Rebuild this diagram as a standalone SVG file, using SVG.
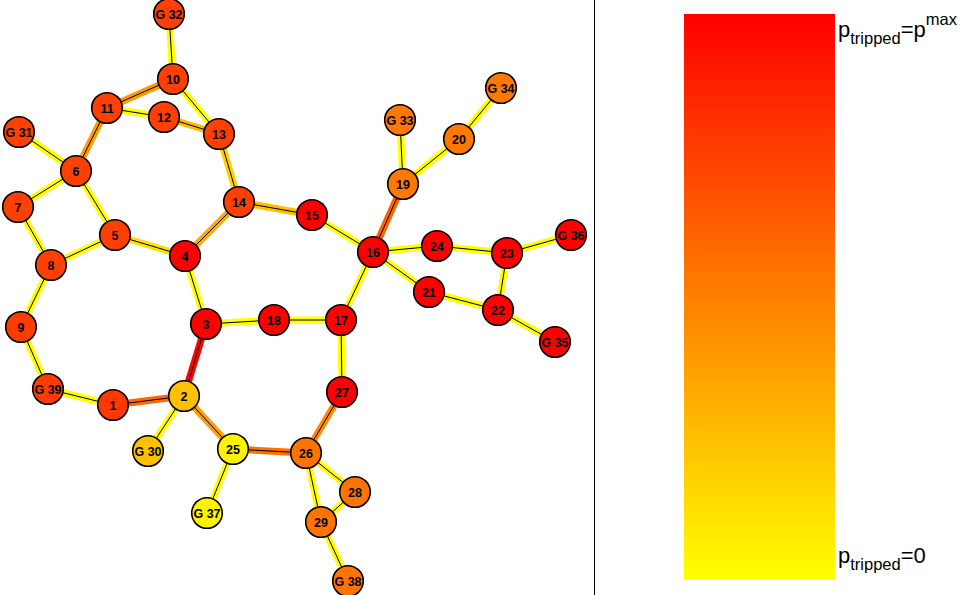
<svg xmlns="http://www.w3.org/2000/svg" width="963" height="595" viewBox="0 0 963 595">
<style>
.n circle{stroke:#000;stroke-width:1.6}
.n text{font-family:"Liberation Sans",Arial,sans-serif;font-weight:bold;font-size:12.5px;text-anchor:middle;fill:#000}
.e line.c{stroke-width:7;stroke-linecap:butt}
.e line.k{stroke:#000;stroke-width:1}
.lbl{font-family:"Liberation Sans",Arial,sans-serif;fill:#000}
</style>
<defs>
<linearGradient id="cb" x1="0" y1="0" x2="0" y2="1">
<stop offset="0" stop-color="#ff0000"/>
<stop offset="1" stop-color="#ffff00"/>
</linearGradient>
</defs>
<rect width="963" height="595" fill="#fff"/>
<line x1="594.5" y1="0" x2="594.5" y2="595" stroke="#000" stroke-width="1"/>
<rect x="684" y="14" width="151" height="565" fill="url(#cb)"/>
<text class="lbl" x="838" y="37" font-size="22">p<tspan font-size="16.5" dy="7">tripped</tspan><tspan dy="-7">=p</tspan><tspan font-size="16.5" dy="-12">max</tspan></text>
<text class="lbl" x="838" y="563" font-size="22">p<tspan font-size="16.5" dy="7">tripped</tspan><tspan dy="-7">=0</tspan></text>
<g id="connectors" class="e">
<g stroke="#ffff00">
<line class="c" x1="169" y1="14" x2="173" y2="79"/>
<line class="c" x1="107" y1="108" x2="164" y2="117"/>
<line class="c" x1="173" y1="79" x2="219" y2="134"/>
<line class="c" x1="19" y1="132" x2="76" y2="171"/>
<line class="c" x1="76" y1="171" x2="18" y2="207"/>
<line class="c" x1="76" y1="171" x2="115" y2="235"/>
<line class="c" x1="18" y1="207" x2="51" y2="265"/>
<line class="c" x1="51" y1="265" x2="115" y2="235"/>
<line class="c" x1="185" y1="256" x2="206" y2="324"/>
<line class="c" x1="51" y1="265" x2="21" y2="327"/>
<line class="c" x1="21" y1="327" x2="48" y2="389"/>
<line class="c" x1="48" y1="389" x2="113" y2="405"/>
<line class="c" x1="206" y1="324" x2="274" y2="320"/>
<line class="c" x1="274" y1="320" x2="341" y2="320"/>
<line class="c" x1="341" y1="320" x2="373" y2="252"/>
<line class="c" x1="341" y1="320" x2="342" y2="392"/>
<line class="c" x1="312" y1="215" x2="373" y2="252"/>
<line class="c" x1="403" y1="184" x2="400" y2="120"/>
<line class="c" x1="403" y1="184" x2="459" y2="139"/>
<line class="c" x1="459" y1="139" x2="501" y2="88"/>
<line class="c" x1="373" y1="252" x2="437" y2="246"/>
<line class="c" x1="437" y1="246" x2="507" y2="253"/>
<line class="c" x1="507" y1="253" x2="571" y2="235"/>
<line class="c" x1="373" y1="252" x2="429" y2="292"/>
<line class="c" x1="429" y1="292" x2="498" y2="310"/>
<line class="c" x1="507" y1="253" x2="498" y2="310"/>
<line class="c" x1="498" y1="310" x2="555" y2="342"/>
<line class="c" x1="184" y1="396" x2="148" y2="451"/>
<line class="c" x1="233" y1="449" x2="207" y2="513"/>
<line class="c" x1="306" y1="453" x2="355" y2="492"/>
<line class="c" x1="306" y1="453" x2="321" y2="522"/>
<line class="c" x1="355" y1="492" x2="321" y2="522"/>
<line class="c" x1="321" y1="522" x2="348" y2="581"/>
</g>
<line class="c" stroke="#ff9900" x1="173" y1="79" x2="107" y2="108"/>
<line class="c" stroke="#ff9900" x1="107" y1="108" x2="76" y2="171"/>
<line class="c" stroke="#ffbb00" x1="164" y1="117" x2="219" y2="134"/>
<line class="c" stroke="#ffd000" x1="239" y1="202" x2="219" y2="134"/>
<line class="c" stroke="#ffaa00" x1="185" y1="256" x2="239" y2="202"/>
<line class="c" stroke="#ffbf00" x1="239" y1="202" x2="312" y2="215"/>
<line class="c" stroke="#ffe000" x1="115" y1="235" x2="185" y2="256"/>
<line class="c" stroke="#ff6600" x1="113" y1="405" x2="184" y2="396"/>
<line class="c" stroke="#ff0000" x1="184" y1="396" x2="206" y2="324"/>
<line class="c" stroke="#ff6000" x1="373" y1="252" x2="403" y2="184"/>
<line class="c" stroke="#ff9d10" x1="184" y1="396" x2="233" y2="449"/>
<line class="c" stroke="#ff7000" x1="233" y1="449" x2="306" y2="453"/>
<line class="c" stroke="#ff8800" x1="306" y1="453" x2="342" y2="392"/>
<g>
<line class="k" x1="169" y1="14" x2="173" y2="79"/>
<line class="k" x1="107" y1="108" x2="164" y2="117"/>
<line class="k" x1="173" y1="79" x2="219" y2="134"/>
<line class="k" x1="19" y1="132" x2="76" y2="171"/>
<line class="k" x1="76" y1="171" x2="18" y2="207"/>
<line class="k" x1="76" y1="171" x2="115" y2="235"/>
<line class="k" x1="18" y1="207" x2="51" y2="265"/>
<line class="k" x1="51" y1="265" x2="115" y2="235"/>
<line class="k" x1="185" y1="256" x2="206" y2="324"/>
<line class="k" x1="51" y1="265" x2="21" y2="327"/>
<line class="k" x1="21" y1="327" x2="48" y2="389"/>
<line class="k" x1="48" y1="389" x2="113" y2="405"/>
<line class="k" x1="206" y1="324" x2="274" y2="320"/>
<line class="k" x1="274" y1="320" x2="341" y2="320"/>
<line class="k" x1="341" y1="320" x2="373" y2="252"/>
<line class="k" x1="341" y1="320" x2="342" y2="392"/>
<line class="k" x1="312" y1="215" x2="373" y2="252"/>
<line class="k" x1="403" y1="184" x2="400" y2="120"/>
<line class="k" x1="403" y1="184" x2="459" y2="139"/>
<line class="k" x1="459" y1="139" x2="501" y2="88"/>
<line class="k" x1="373" y1="252" x2="437" y2="246"/>
<line class="k" x1="437" y1="246" x2="507" y2="253"/>
<line class="k" x1="507" y1="253" x2="571" y2="235"/>
<line class="k" x1="373" y1="252" x2="429" y2="292"/>
<line class="k" x1="429" y1="292" x2="498" y2="310"/>
<line class="k" x1="507" y1="253" x2="498" y2="310"/>
<line class="k" x1="498" y1="310" x2="555" y2="342"/>
<line class="k" x1="184" y1="396" x2="148" y2="451"/>
<line class="k" x1="233" y1="449" x2="207" y2="513"/>
<line class="k" x1="306" y1="453" x2="355" y2="492"/>
<line class="k" x1="306" y1="453" x2="321" y2="522"/>
<line class="k" x1="355" y1="492" x2="321" y2="522"/>
<line class="k" x1="321" y1="522" x2="348" y2="581"/>
<line class="k" x1="173" y1="79" x2="107" y2="108"/>
<line class="k" x1="107" y1="108" x2="76" y2="171"/>
<line class="k" x1="164" y1="117" x2="219" y2="134"/>
<line class="k" x1="239" y1="202" x2="219" y2="134"/>
<line class="k" x1="185" y1="256" x2="239" y2="202"/>
<line class="k" x1="239" y1="202" x2="312" y2="215"/>
<line class="k" x1="115" y1="235" x2="185" y2="256"/>
<line class="k" x1="113" y1="405" x2="184" y2="396"/>
<line class="k" x1="184" y1="396" x2="206" y2="324"/>
<line class="k" x1="373" y1="252" x2="403" y2="184"/>
<line class="k" x1="184" y1="396" x2="233" y2="449"/>
<line class="k" x1="233" y1="449" x2="306" y2="453"/>
<line class="k" x1="306" y1="453" x2="342" y2="392"/>
</g>
</g>
<g class="n">
<g id="nG32"><circle cx="169" cy="14" r="15.3" fill="#ff4000"/><text x="169" y="18.5">G 32</text></g>
<g id="n10"><circle cx="173" cy="79" r="15.3" fill="#ff4000"/><text x="173" y="83.5">10</text></g>
<g id="n11"><circle cx="107" cy="108" r="15.3" fill="#ff4000"/><text x="107" y="112.5">11</text></g>
<g id="n12"><circle cx="164" cy="117" r="15.3" fill="#ff4000"/><text x="164" y="121.5">12</text></g>
<g id="n13"><circle cx="219" cy="134" r="15.3" fill="#ff4000"/><text x="219" y="138.5">13</text></g>
<g id="nG31"><circle cx="19" cy="132" r="15.3" fill="#ff4000"/><text x="19" y="136.5">G 31</text></g>
<g id="n6"><circle cx="76" cy="171" r="15.3" fill="#ff4000"/><text x="76" y="175.5">6</text></g>
<g id="n7"><circle cx="18" cy="207" r="15.3" fill="#ff4000"/><text x="18" y="211.5">7</text></g>
<g id="n5"><circle cx="115" cy="235" r="15.3" fill="#ff4000"/><text x="115" y="239.5">5</text></g>
<g id="n14"><circle cx="239" cy="202" r="15.3" fill="#ff4000"/><text x="239" y="206.5">14</text></g>
<g id="n8"><circle cx="51" cy="265" r="15.3" fill="#ff4000"/><text x="51" y="269.5">8</text></g>
<g id="n9"><circle cx="21" cy="327" r="15.3" fill="#ff3c00"/><text x="21" y="331.5">9</text></g>
<g id="nG39"><circle cx="48" cy="389" r="15.3" fill="#ff3c00"/><text x="48" y="393.5">G 39</text></g>
<g id="n1"><circle cx="113" cy="405" r="15.3" fill="#ff3800"/><text x="113" y="409.5">1</text></g>
<g id="n4"><circle cx="185" cy="256" r="15.3" fill="#ff0000"/><text x="185" y="260.5">4</text></g>
<g id="n3"><circle cx="206" cy="324" r="15.3" fill="#ff0000"/><text x="206" y="328.5">3</text></g>
<g id="n18"><circle cx="274" cy="320" r="15.3" fill="#ff0000"/><text x="274" y="324.5">18</text></g>
<g id="n17"><circle cx="341" cy="320" r="15.3" fill="#ff0000"/><text x="341" y="324.5">17</text></g>
<g id="n27"><circle cx="342" cy="392" r="15.3" fill="#ff0000"/><text x="342" y="396.5">27</text></g>
<g id="n15"><circle cx="312" cy="215" r="15.3" fill="#ff0000"/><text x="312" y="219.5">15</text></g>
<g id="n16"><circle cx="373" cy="252" r="15.3" fill="#ff0000"/><text x="373" y="256.5">16</text></g>
<g id="n24"><circle cx="437" cy="246" r="15.3" fill="#ff0000"/><text x="437" y="250.5">24</text></g>
<g id="n23"><circle cx="507" cy="253" r="15.3" fill="#ff0000"/><text x="507" y="257.5">23</text></g>
<g id="nG36"><circle cx="571" cy="235" r="15.3" fill="#ff0000"/><text x="571" y="239.5">G 36</text></g>
<g id="n21"><circle cx="429" cy="292" r="15.3" fill="#ff0000"/><text x="429" y="296.5">21</text></g>
<g id="n22"><circle cx="498" cy="310" r="15.3" fill="#ff0000"/><text x="498" y="314.5">22</text></g>
<g id="nG35"><circle cx="555" cy="342" r="15.3" fill="#ff0000"/><text x="555" y="346.5">G 35</text></g>
<g id="n19"><circle cx="403" cy="184" r="15.3" fill="#ff7800"/><text x="403" y="188.5">19</text></g>
<g id="nG33"><circle cx="400" cy="120" r="15.3" fill="#ff7800"/><text x="400" y="124.5">G 33</text></g>
<g id="n20"><circle cx="459" cy="139" r="15.3" fill="#ff7800"/><text x="459" y="143.5">20</text></g>
<g id="nG34"><circle cx="501" cy="88" r="15.3" fill="#ff7800"/><text x="501" y="92.5">G 34</text></g>
<g id="n2"><circle cx="184" cy="396" r="15.3" fill="#ffc000"/><text x="184" y="400.5">2</text></g>
<g id="nG30"><circle cx="148" cy="451" r="15.3" fill="#ffc000"/><text x="148" y="455.5">G 30</text></g>
<g id="n25"><circle cx="233" cy="449" r="15.3" fill="#fff200"/><text x="233" y="453.5">25</text></g>
<g id="nG37"><circle cx="207" cy="513" r="15.3" fill="#fff200"/><text x="207" y="517.5">G 37</text></g>
<g id="n26"><circle cx="306" cy="453" r="15.3" fill="#ff7400"/><text x="306" y="457.5">26</text></g>
<g id="n28"><circle cx="355" cy="492" r="15.3" fill="#ff7400"/><text x="355" y="496.5">28</text></g>
<g id="n29"><circle cx="321" cy="522" r="15.3" fill="#ff7400"/><text x="321" y="526.5">29</text></g>
<g id="nG38"><circle cx="348" cy="581" r="15.3" fill="#ff7400"/><text x="348" y="585.5">G 38</text></g>
</g>
</svg>
